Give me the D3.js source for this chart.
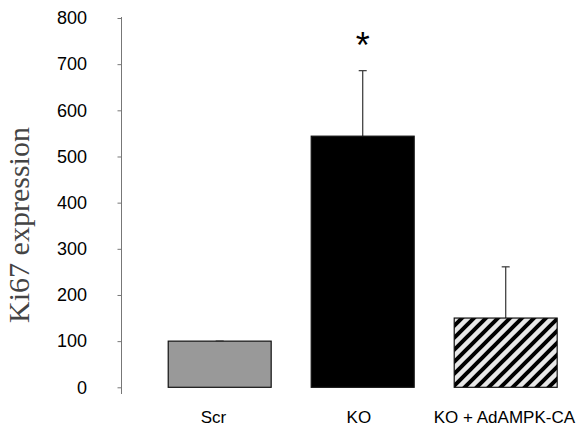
<!DOCTYPE html>
<html><head><meta charset="utf-8">
<script src="https://cdn.jsdelivr.net/npm/d3@7"></script>
<style>body{margin:0;background:#fff}svg{display:block}</style>
</head><body>
<script>
const categories = ["Scr", "KO", "KO + AdAMPK-CA"];
const means = [100, 544, 150];
const errors = [0, 142, 111];
const yTicks = [0, 100, 200, 300, 400, 500, 600, 700, 800];
const significance = ["", "*", ""];

const W = 579, H = 430;
const svg = d3.select("body").append("svg").attr("width", W).attr("height", H);
const defs = svg.append("defs");
const pat = defs.append("pattern").attr("id", "hatch").attr("patternUnits", "userSpaceOnUse")
  .attr("width", 12).attr("height", 12);
pat.append("rect").attr("width", 12).attr("height", 12).attr("fill", "#e8e8e8");
pat.append("path").attr("d", "M-3,3 L3,-3 M0,12 L12,0 M9,15 L15,9")
  .attr("stroke", "#000").attr("stroke-width", 4);

const y = d3.scaleLinear().domain([0, 800]).range([387.3, 18]);
const x = d3.scaleBand().domain(categories).range([148.2, 577.2]).paddingInner(0.28).paddingOuter(0.14);
const xLabel = d3.scalePoint().domain(categories).range([213.4, 504.4]);

const fills = ["#999999", "#000000", "url(#hatch)"];

// axis
const axisX = 121.5;
const ax = svg.append("g").attr("transform", `translate(${axisX},0)`)
  .call(d3.axisLeft(y).tickValues(yTicks).tickSize(4).tickPadding(30.5));
ax.select(".domain").remove();
ax.selectAll(".tick line").attr("stroke", "#777");
ax.selectAll(".tick text").attr("font-family", "Arial, 'Liberation Sans', sans-serif")
  .attr("font-size", 18).attr("fill", "#000");
svg.append("line").attr("x1", axisX).attr("x2", axisX).attr("y1", 17).attr("y2", 394)
  .attr("stroke", "#777").attr("stroke-width", 1);

// error bars
const eb = svg.append("g");
categories.forEach((c, i) => {
  const cx = x(c) + x.bandwidth() / 2;
  eb.append("line").attr("x1", cx).attr("x2", cx).attr("y1", y(means[i])).attr("y2", y(means[i] + errors[i]))
    .attr("stroke", "#444").attr("stroke-width", 1.3);
  eb.append("line").attr("x1", cx - 4).attr("x2", cx + 4).attr("y1", y(means[i] + errors[i])).attr("y2", y(means[i] + errors[i]))
    .attr("stroke", "#444").attr("stroke-width", 1.3);
});

// bars
svg.append("g").selectAll("rect").data(categories).join("rect")
  .attr("x", d => x(d)).attr("width", x.bandwidth())
  .attr("y", (d, i) => y(means[i])).attr("height", (d, i) => y(0) - y(means[i]))
  .attr("fill", (d, i) => fills[i]).attr("stroke", "#111").attr("stroke-width", 1.2);

// significance
svg.append("g").selectAll("text").data(categories).join("text")
  .attr("x", d => x(d) + x.bandwidth() / 2).attr("y", 58)
  .attr("text-anchor", "middle").attr("font-family", "Arial, 'Liberation Sans', sans-serif")
  .attr("font-size", 36).text((d, i) => significance[i]);

// x labels
svg.append("g").selectAll("text").data(categories).join("text")
  .attr("x", d => xLabel(d)).attr("y", 422.5)
  .attr("text-anchor", "middle").attr("font-family", "Arial, 'Liberation Sans', sans-serif")
  .attr("font-size", 17).attr("fill", "#000").text(d => d);

// y title
svg.append("text").attr("transform", "translate(29,225) rotate(-90)")
  .attr("text-anchor", "middle").attr("font-family", "'Liberation Serif', 'Times New Roman', serif")
  .attr("font-size", 30).attr("fill", "#444").text("Ki67 expression");
</script>
</body></html>
